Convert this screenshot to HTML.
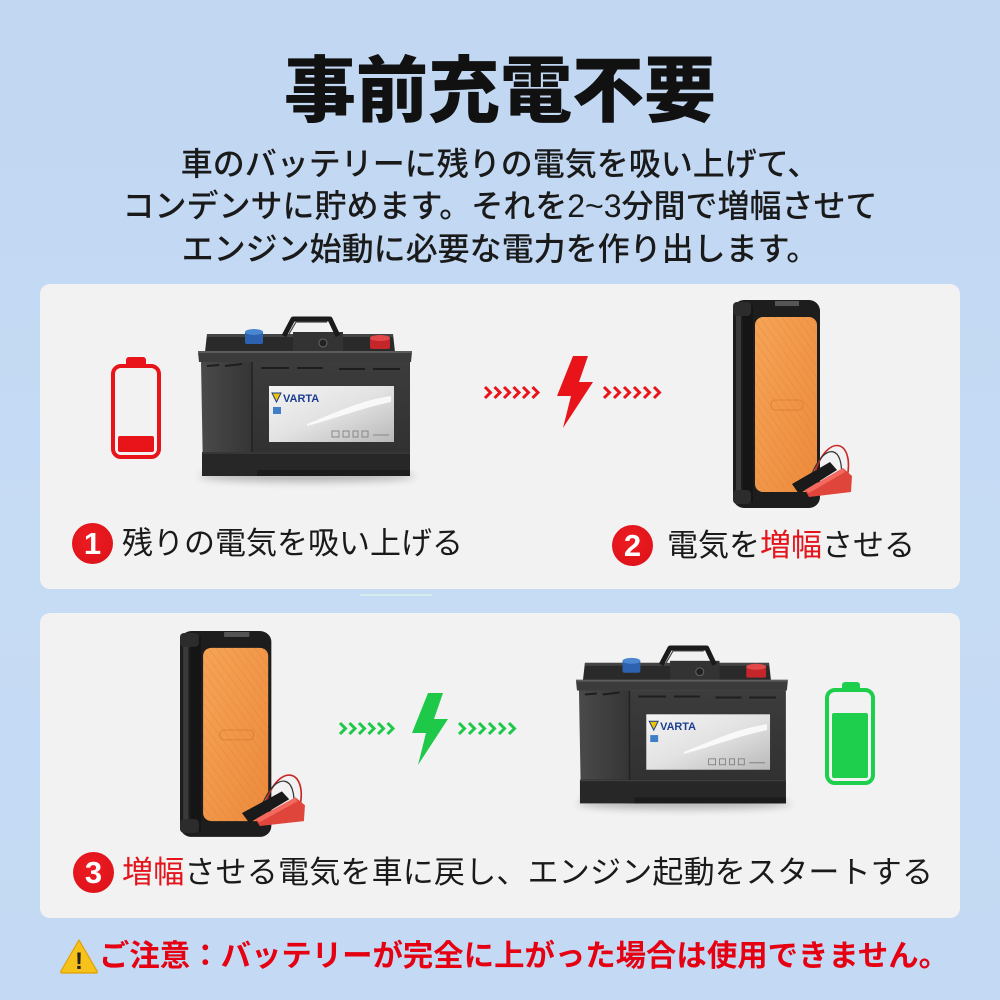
<!DOCTYPE html>
<html><head><meta charset="utf-8">
<style>
html,body{margin:0;padding:0;}
body{width:1000px;height:1000px;position:relative;overflow:hidden;background:linear-gradient(180deg,#c1d7f2 0%,#c6dbf4 55%,#c4d9f3 100%);font-family:"Liberation Sans","Noto Sans CJK JP",sans-serif;}
.t{position:absolute;white-space:nowrap;line-height:1;}
.panel{position:absolute;left:40px;width:920px;background:#f2f2f2;border-radius:10px;}
.num{position:absolute;width:41px;height:41px;border-radius:50%;background:radial-gradient(circle at 45% 40%,#ee1c22 0%,#e0141b 70%,#c80f15 100%);color:#fff;font-family:"Liberation Sans",sans-serif;font-weight:bold;font-size:31px;line-height:41px;text-align:center;}
svg{position:absolute;left:0;top:0;}
</style></head><body>
<div class="panel" style="top:284px;height:305px"></div>
<div class="panel" style="top:613px;height:305px"></div>

<svg width="1000" height="1000" viewBox="0 0 1000 1000">
<defs>
  <linearGradient id="lbl" x1="0" y1="0" x2="1" y2="1">
    <stop offset="0" stop-color="#f4f4f4"/><stop offset="0.5" stop-color="#e2e2e2"/><stop offset="1" stop-color="#b9b9b9"/>
  </linearGradient>
  <linearGradient id="front" x1="0" y1="0" x2="0" y2="1">
    <stop offset="0" stop-color="#3c3c3c"/><stop offset="1" stop-color="#2e2e2e"/>
  </linearGradient>
  <linearGradient id="side" x1="0" y1="0" x2="1" y2="0">
    <stop offset="0" stop-color="#4a4a4a"/><stop offset="1" stop-color="#353535"/>
  </linearGradient>
  <linearGradient id="org" x1="0" y1="0" x2="1" y2="1">
    <stop offset="0" stop-color="#f6a457"/><stop offset="1" stop-color="#ec8a3b"/>
  </linearGradient>
  <pattern id="stripe" width="6" height="6" patternUnits="userSpaceOnUse" patternTransform="rotate(-35)">
    <line x1="0" y1="0" x2="0" y2="6" stroke="#d97a30" stroke-width="1.2" stroke-opacity="0.45"/>
  </pattern>
  <filter id="blur" x="-20%" y="-200%" width="140%" height="500%"><feGaussianBlur stdDeviation="4"/></filter>

  <g id="bat">
    <ellipse cx="110" cy="160" rx="108" ry="6" fill="#000" opacity="0.25" filter="url(#blur)"/>
    <polygon points="10,18 196,18 198,36 8,36" fill="#2a2a2a"/>
    <rect x="10" y="18" width="186" height="3" fill="#444"/>
    <rect x="96" y="16" width="50" height="20" fill="#333"/>
    <path d="M87,20 L96,3 L133,3 L141,20" fill="none" stroke="#1b1b1b" stroke-width="5" stroke-linejoin="round"/>
    <path d="M92,18 L99,6 L130,6" fill="none" stroke="#444" stroke-width="1.2"/>
    <circle cx="126" cy="27" r="4" fill="#222" stroke="#666" stroke-width="1"/>
    <rect x="48" y="15" width="18" height="13" rx="2" fill="#2c62b0"/>
    <ellipse cx="57" cy="16" rx="9" ry="3" fill="#4b86d1"/>
    <rect x="173" y="21" width="20" height="12" rx="2" fill="#c4262a"/>
    <ellipse cx="183" cy="22" rx="10" ry="3" fill="#e2474a"/>
    <polygon points="1,36 215,36 214,46 2,46" fill="#3b3b3b"/>
    <rect x="1" y="35" width="214" height="2" fill="#5c5c5c"/>
    <polygon points="4,46 55,46 55,160 6,157" fill="url(#side)"/>
    <rect x="55" y="46" width="158" height="114" fill="url(#front)"/>
    <line x1="55" y1="46" x2="55" y2="160" stroke="#222" stroke-width="1.5"/>
    <g stroke="#1e1e1e" stroke-width="2">
      <line x1="64" y1="52" x2="92" y2="52"/><line x1="100" y1="52" x2="126" y2="52"/>
      <line x1="142" y1="53" x2="168" y2="53"/><line x1="176" y1="53" x2="203" y2="53"/>
      <line x1="10" y1="50" x2="22" y2="49"/><line x1="28" y1="50" x2="45" y2="48"/>
    </g>
    <rect x="5" y="136" width="208" height="24" fill="#272727"/>
    <line x1="5" y1="137" x2="213" y2="137" stroke="#444" stroke-width="1"/>
    <rect x="60" y="154" width="153" height="6" fill="#1c1c1c"/>
    <rect x="72" y="70" width="125" height="56" fill="url(#lbl)"/>
    <path d="M110,108 C140,96 165,84 194,80 L194,86 C165,92 140,102 110,110 Z" fill="#fff" opacity="0.8"/>
    <polygon points="75,77 84,77 79.5,86" fill="#f2c400" stroke="#1b3d8f" stroke-width="1"/>
    <text x="86" y="86" font-family="Liberation Sans, sans-serif" font-weight="bold" font-size="11" fill="#1b3d8f">VARTA</text>
    <rect x="76" y="91" width="8" height="7" fill="#3f7fc7"/>
    <g fill="none" stroke="#777" stroke-width="0.8">
      <rect x="135" y="115" width="7" height="6"/><rect x="146" y="115" width="6" height="6"/>
      <rect x="156" y="115" width="5" height="6"/><rect x="165" y="115" width="6" height="6"/>
      <line x1="176" y1="119" x2="192" y2="119"/>
    </g>
  </g>

  <g id="js">
    <rect x="0" y="0" width="87" height="208" rx="11" fill="#1d1d1d"/>
    <rect x="3" y="12" width="5" height="184" fill="#3a3a3a"/>
    <rect x="10" y="6" width="10" height="196" fill="#151515"/>
    <rect x="0" y="2" width="18" height="14" rx="4" fill="#2c2c2c"/>
    <rect x="0" y="190" width="18" height="14" rx="4" fill="#2c2c2c"/>
    <rect x="42" y="1" width="24" height="5" fill="#555"/>
    <rect x="22" y="17" width="62" height="175" rx="8" fill="url(#org)"/>
    <rect x="22" y="17" width="62" height="175" rx="8" fill="url(#stripe)"/>
    <rect x="38" y="100" width="32" height="10" rx="4" fill="none" stroke="#c06a25" stroke-opacity="0.45"/>
    <path d="M82,172 C95,132 122,140 114,178" fill="none" stroke="#c82828" stroke-width="1.6"/>
    <path d="M78,176 C92,140 112,146 108,180" fill="none" stroke="#333" stroke-width="1.2"/>
    <polygon points="59,184 97,162 104,170 66,194" fill="#1a1a1a"/>
    <polygon points="72,190 110,168 119,176 118,192 76,197" fill="#e0453c"/>
    <polygon points="72,190 110,168 112,172 76,193" fill="#f26a5f"/>
  </g>

  <polygon id="bolt" points="573,356 588,356 579,382 593,382 563,428 571,396 557,396"/>
</defs>

<rect x="360" y="594" width="72" height="2" fill="#d6ecec"/>

<!-- Panel 1 -->
<rect x="126" y="357" width="20" height="10" rx="3" fill="#e8141a"/>
<rect x="113" y="366" width="46" height="91" rx="8" fill="none" stroke="#e8141a" stroke-width="4"/>
<rect x="118" y="436" width="36" height="16" rx="2" fill="#e8141a"/>

<use href="#bat" transform="translate(197,316)"/>

<g stroke="#e8141a" fill="none" stroke-width="3">
  <path d="M485,387 l5.5,5.5 l-5.5,5.5 M494.5,387 l5.5,5.5 l-5.5,5.5 M504,387 l5.5,5.5 l-5.5,5.5 M513.5,387 l5.5,5.5 l-5.5,5.5 M523,387 l5.5,5.5 l-5.5,5.5 M532.5,387 l5.5,5.5 l-5.5,5.5"/>
  <path d="M604,387 l5.5,5.5 l-5.5,5.5 M614,387 l5.5,5.5 l-5.5,5.5 M624,387 l5.5,5.5 l-5.5,5.5 M634,387 l5.5,5.5 l-5.5,5.5 M644,387 l5.5,5.5 l-5.5,5.5 M654,387 l5.5,5.5 l-5.5,5.5"/>
</g>
<use href="#bolt" fill="#e8141a"/>

<use href="#js" transform="translate(733,300)"/>

<!-- Panel 2 -->
<use href="#js" transform="translate(180,631) scale(1.05,0.99)"/>

<g stroke="#1ec94a" fill="none" stroke-width="3">
  <path d="M340,723 l5.5,5.5 l-5.5,5.5 M349.5,723 l5.5,5.5 l-5.5,5.5 M359,723 l5.5,5.5 l-5.5,5.5 M368.5,723 l5.5,5.5 l-5.5,5.5 M378,723 l5.5,5.5 l-5.5,5.5 M387.5,723 l5.5,5.5 l-5.5,5.5"/>
  <path d="M459,723 l5.5,5.5 l-5.5,5.5 M469,723 l5.5,5.5 l-5.5,5.5 M479,723 l5.5,5.5 l-5.5,5.5 M489,723 l5.5,5.5 l-5.5,5.5 M499,723 l5.5,5.5 l-5.5,5.5 M509,723 l5.5,5.5 l-5.5,5.5"/>
</g>
<use href="#bolt" fill="#1ec94a" transform="translate(-145,337)"/>

<use href="#bat" transform="translate(575,645) scale(0.99,0.99)"/>

<rect x="842" y="682" width="18" height="10" rx="3" fill="#1dcf4d"/>
<rect x="827" y="690" width="46" height="93" rx="8" fill="none" stroke="#1dcf4d" stroke-width="4"/>
<rect x="832" y="713" width="36" height="65" rx="2" fill="#1dcf4d"/>

<path d="M79,940 L97,971 Q98,973 96,973 L62,973 Q60,973 61,971 Z" fill="#f7c21a" stroke="#e0a000" stroke-width="1.2" stroke-linejoin="round"/>
<text x="79" y="969" text-anchor="middle" font-family="Liberation Sans, sans-serif" font-weight="bold" font-size="24" fill="#222">!</text>
</svg>

<div class="t" style="left:0;width:1000px;text-align:center;top:56px;font-size:72px;font-weight:900;color:#111;">事前充電不要</div>

<div class="t" style="left:0;width:1000px;text-align:center;top:148px;font-size:32px;font-weight:500;color:#1a1a1a;">車のバッテリーに残りの電気を吸い上げて、</div>
<div class="t" style="left:0;width:1000px;text-align:center;top:190px;font-size:32px;font-weight:500;color:#1a1a1a;">コンデンサに貯めます。それを2~3分間で増幅させて</div>
<div class="t" style="left:0;width:1000px;text-align:center;top:233px;font-size:32px;font-weight:500;color:#1a1a1a;">エンジン始動に必要な電力を作り出します。</div>

<div class="num" style="left:72px;top:523px;">1</div>
<div class="t" style="left:122px;top:528px;font-size:31px;color:#1a1a1a;">残りの電気を吸い上げる</div>

<div class="num" style="left:612px;top:525px;">2</div>
<div class="t" style="left:667px;top:530px;font-size:31px;color:#1a1a1a;">電気を<span style="color:#e3141b">増幅</span>させる</div>

<div class="num" style="left:73px;top:852px;">3</div>
<div class="t" style="left:122px;top:857px;font-size:31px;letter-spacing:0.2px;color:#1a1a1a;"><span style="color:#e3141b">増幅</span>させる電気を車に戻し、エンジン起動をスタートする</div>

<div class="t" style="left:99px;top:941px;font-size:30.4px;font-weight:bold;color:#e50012;">ご注意：バッテリーが完全に上がった場合は使用できません。</div>
</body></html>
